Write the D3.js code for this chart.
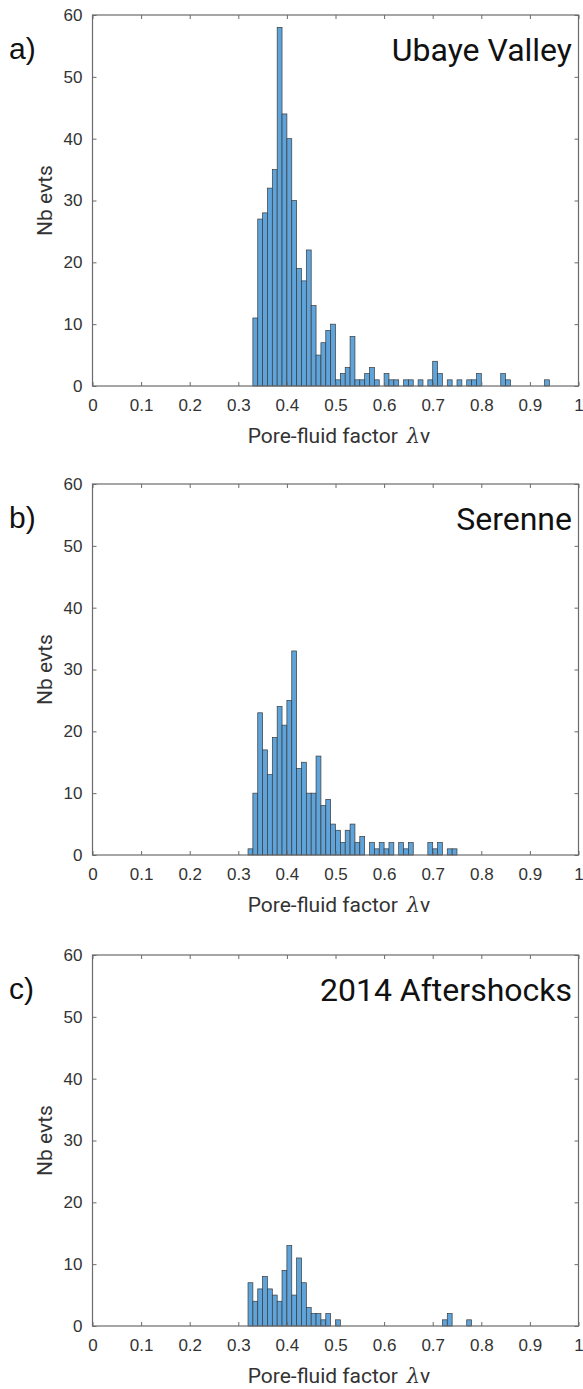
<!DOCTYPE html>
<html><head><meta charset="utf-8">
<script src="https://cdn.jsdelivr.net/npm/d3@7"></script>
<style>body{margin:0;background:#fff}</style>
</head><body>
<svg id="chart" width="583" height="1389"></svg>
<script>
// ---- data ----
const binWidth = 0.01;
const panelLetters = ["a)", "b)", "c)"];
const panelTitles = ["Ubaye Valley", "Serenne", "2014 Aftershocks"];
const ubayeStart = 0.33;
const ubayeCounts = [11,27,28,32,35,58,44,40,30,19,17,22,13,5,7,9,10,1,2,3,8,1,1,2,3,1,0,2,1,1,0,1,1,0,1,0,1,4,2,0,1,0,1,0,1,1,2,0,0,0,0,2,1,0,0,0,0,0,0,0,1];
const serenneStart = 0.32;
const serenneCounts = [1,10,23,17,13,19,24,21,25,33,14,15,10,10,16,8,9,5,4,2,4,5,2,3,0,2,1,2,1,2,0,2,1,2,0,0,0,2,1,2,0,1,1];
const aftershockStart = 0.32;
const aftershockCounts = [7,4,6,8,6,5,4,9,13,5,11,7,3,2,2,1,2,0,1,0,0,0,0,0,0,0,0,0,0,0,0,0,0,0,0,0,0,0,0,0,1,2,0,0,0,1];
const fullRangeZeros = [false, true, true];
const xTickValues = [0,0.1,0.2,0.3,0.4,0.5,0.6,0.7,0.8,0.9,1];
const xTickLabels = ["0","0.1","0.2","0.3","0.4","0.5","0.6","0.7","0.8","0.9","1"];
const yTickValues = [0,10,20,30,40,50,60];
const xLabelText = "Pore-fluid factor";
const xLabelSymbol = "\u03bb";
const xLabelSub = "v";
const yLabel = "Nb evts";

const starts = [ubayeStart, serenneStart, aftershockStart];
const countsList = [ubayeCounts, serenneCounts, aftershockCounts];

// ---- layout ----
const svg = d3.select("#chart");
const left = 92.5, right = 578.5;
const tops = [15, 484, 955];
const ph = 371;
const x = d3.scaleLinear().domain([0,1]).range([left, right]);
const axisColor = "#6b6b6b";
const tickFont = "Liberation Sans, Arial, sans-serif";

tops.forEach((top, i) => {
  const y = d3.scaleLinear().domain([0,60]).range([top + ph, top]);
  const g = svg.append("g");

  // bins
  const start = starts[i], counts = countsList[i];
  const bins = [];
  if (fullRangeZeros[i]) {
    for (let k = 0; k < 100; k++) bins.push({x0: k*binWidth, v: 0});
  }
  counts.forEach((c, j) => {
    const x0 = +(start + j*binWidth).toFixed(2);
    const k = Math.round(x0/binWidth);
    if (fullRangeZeros[i]) bins[k].v = c; else bins.push({x0, v: c});
  });
  g.selectAll("rect.bar").data(bins).enter().append("rect")
    .attr("class","bar")
    .attr("x", d => x(d.x0))
    .attr("width", d => x(d.x0 + binWidth) - x(d.x0))
    .attr("y", d => y(d.v))
    .attr("height", d => y(0) - y(d.v))
    .attr("fill", "#5ea4da")
    .attr("stroke", "#3a3a3a")
    .attr("stroke-width", 0.7);

  // frame
  g.append("rect").attr("x", left).attr("y", top).attr("width", right-left).attr("height", ph)
    .attr("fill","none").attr("stroke", axisColor).attr("stroke-width", 1.2);

  // bottom axis (ticks inward)
  const xb = d3.axisBottom(x).tickValues(xTickValues).tickFormat((d,j)=>xTickLabels[j]).tickSizeInner(-4).tickSizeOuter(0).tickPadding(13);
  const gx = g.append("g").attr("transform", `translate(0,${top+ph})`).call(xb);
  gx.select(".domain").remove();
  gx.selectAll("line").attr("stroke", axisColor);
  gx.selectAll("text").attr("font-family", tickFont).attr("font-size", 17).attr("fill","#333");
  const xt = d3.axisTop(x).tickValues(xTickValues).tickFormat("").tickSizeInner(-4).tickSizeOuter(0);
  const gxt = g.append("g").attr("transform", `translate(0,${top})`).call(xt);
  gxt.select(".domain").remove();
  gxt.selectAll("line").attr("stroke", axisColor);

  // left axis
  const yl = d3.axisLeft(y).tickValues(yTickValues).tickSizeInner(-4).tickSizeOuter(0).tickPadding(10);
  const gy = g.append("g").attr("transform", `translate(${left},0)`).call(yl);
  gy.select(".domain").remove();
  gy.selectAll("line").attr("stroke", axisColor);
  gy.selectAll("text").attr("font-family", tickFont).attr("font-size", 17).attr("fill","#333");
  const yr = d3.axisRight(y).tickValues(yTickValues).tickFormat("").tickSizeInner(-4).tickSizeOuter(0);
  const gyr = g.append("g").attr("transform", `translate(${right},0)`).call(yr);
  gyr.select(".domain").remove();
  gyr.selectAll("line").attr("stroke", axisColor);

  // axis titles
  const xt2 = g.append("text").attr("x", 339).attr("y", top + ph + 57)
    .attr("text-anchor","middle").attr("font-family","Roboto, sans-serif").attr("font-size", 21)
    .attr("fill","#333");
  xt2.append("tspan").text(xLabelText);
  xt2.append("tspan").attr("dx", 9).attr("font-family","DejaVu Serif, serif").attr("font-style","italic").text(xLabelSymbol);
  xt2.append("tspan").text(xLabelSub);
  g.append("text").attr("transform", `translate(52,${top+ph/2}) rotate(-90)`)
    .attr("text-anchor","middle").attr("font-family","Roboto, sans-serif").attr("font-size", 21)
    .attr("fill","#333").text(yLabel);

  // panel letter and title
  g.append("text").attr("x", 9).attr("y", top + 44)
    .attr("font-family", tickFont).attr("font-size", 30).attr("fill","#111").text(panelLetters[i]);
  g.append("text").attr("x", 572).attr("y", top + 46).attr("text-anchor","end")
    .attr("font-family", "Roboto, sans-serif").attr("font-size", 32).attr("fill","#111").text(panelTitles[i]);
});
</script>
</body></html>
